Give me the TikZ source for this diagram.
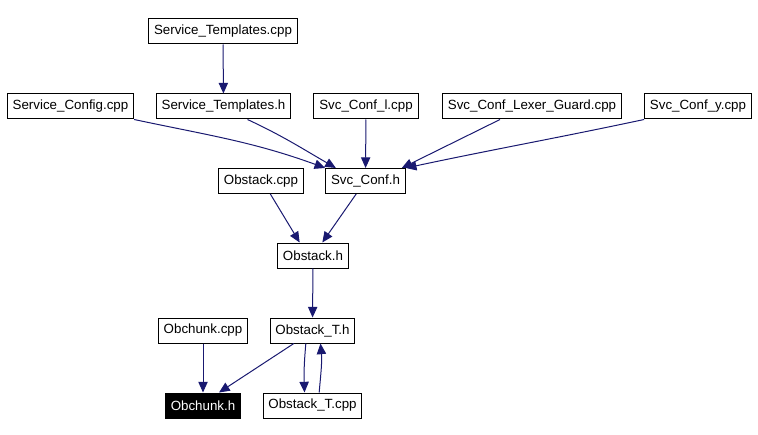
\documentclass[tikz,border=0pt]{standalone}
\usepackage{fontspec}
\setmainfont{Liberation Sans}
\usetikzlibrary{arrows.meta}
\definecolor{edge blue}{RGB}{25,25,112}
\colorlet{box edge}{black}
\tikzset{file/.style={draw=box edge, fill=white, line width=0.75pt, inner xsep=4pt,
        minimum height=18.75pt, font=\fontsize{10}{12}\selectfont},
    current/.style={file, fill=black, text=white},
    dep/.style={draw=edge blue, line width=0.75pt,
        -{Triangle[length=8pt,width=7pt,fill=edge blue]}}}

\begin{document}
\begin{tikzpicture}[x=0.75pt,y=-0.75pt]
     \useasboundingbox (0,0) rectangle (758,435);
     \node[file] (stcpp)  at (223,31.5)   {Service\_Templates.cpp};
     \node[file] (scfg)   at (70.5,106.5) {Service\_Config.cpp};
     \node[file] (sth)    at (223.5,106.5){Service\_Templates.h};
     \node[file] (sclcpp) at (366,106.5)  {Svc\_Conf\_l.cpp};
     \node[file] (sclg)   at (532,106.5)  {Svc\_Conf\_Lexer\_Guard.cpp};
     \node[file] (scycpp) at (698,106.5)  {Svc\_Conf\_y.cpp};
     \node[file] (obcpp)  at (261,181)    {Obstack.cpp};
     \node[file] (sch)    at (365.5,181)  {Svc\_Conf.h};
     \node[file] (obh)    at (313,255.5)  {Obstack.h};
     \node[file] (occpp)  at (203,330.5)  {Obchunk.cpp};
     \node[file] (obth)   at (312.5,330.5){Obstack\_T.h};
     \node[current] (och) at (203,405.5)  {Obchunk.h};
     \node[file] (obtcpp) at (312.5,405.5){Obstack\_T.cpp};

     \draw[dep] (stcpp) -- (sth);
     \draw[dep] (scfg.south east) to[out=-12,in=160] (sch.north west);
     \draw[dep] ([xshift=18pt]sth.south) to[out=-25,in=150] ([xshift=8pt]sch.north west);
     \draw[dep] (sclcpp) -- (sch);
     \draw[dep] ([xshift=-24pt]sclg.south) -- ([xshift=-3pt]sch.north east);
     \draw[dep] (scycpp.south west) to[out=192,in=12] (sch.north east);
     \draw[dep] ([xshift=7pt]obcpp.south) -- ([xshift=-10pt]obh.north);
     \draw[dep] ([xshift=-7pt]sch.south) -- ([xshift=7pt]obh.north);
     \draw[dep] (obh) -- (obth);
     \draw[dep] (occpp) -- (och);
     \draw[dep] ([xshift=-14pt]obth.south) -- ([xshift=12pt]och.north);
     \draw[dep] ([xshift=-5pt]obth.south) to[out=-95,in=92] ([xshift=-6pt]obtcpp.north);
     \draw[dep] ([xshift=5pt]obtcpp.north) to[out=85,in=-85] ([xshift=6pt]obth.south);
\end{tikzpicture}
\end{document}
